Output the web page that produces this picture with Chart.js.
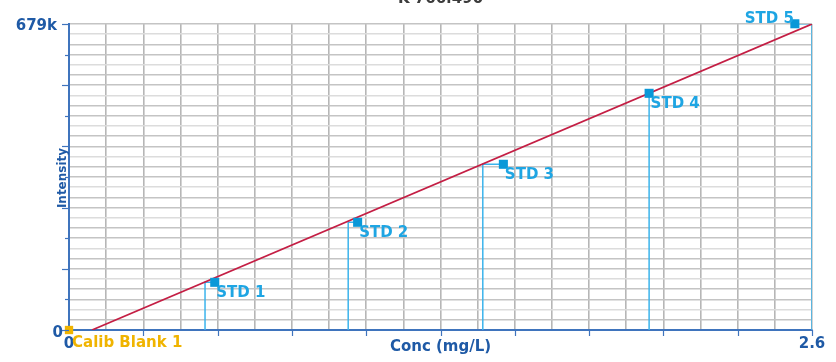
<!DOCTYPE html>
<html>
<head>
<meta charset="utf-8">
<script src="https://cdn.jsdelivr.net/npm/chart.js@4.4.0/dist/chart.umd.min.js"></script>
<style>
    html, body { margin: 0; padding: 0; background: #fff; }
</style>
</head>
<body>
<canvas id="calChart" width="836" height="362"></canvas>
<script>
// Chart data
const chartTitle = 'K 766.490';
const xAxisTitle = 'Conc (mg/L)';
const yAxisTitle = 'Intensity';
const xMax = 2.6;
const yMax = 679000;
const xTickValues = [0, 2.6];
const xTickLabels = ['0', '2.6'];
const yTickValues = [0, 679000];
const yTickLabels = ['0', '679k'];

const stdNames = ['STD 1', 'STD 2', 'STD 3', 'STD 4', 'STD 5'];
const stdConc = [0.51, 1.01, 1.52, 2.03, 2.54];
const stdIntensity = [105800, 239000, 367700, 525200, 679500];
const stdCalcConc = [0.476, 0.977, 1.448, 2.03, 2.6];

const blankName = 'Calib Blank 1';
const blankConc = [0];
const blankIntensity = [0];

const fitConc = [0.0805, 2.6];
const fitIntensity = [0, 679000];

// Colors
const axisBlue = '#3f74bd';
const labelBlue = '#1f5aa6';
const stdBlue = '#0a98d8';
const stdText = '#1ea5e3';
const dropBlue = '#3cb4ec';
const blankYellow = '#f0b400';
const fitRed = '#c41e44';

const X_DIV = 20;
const Y_DIV = 30;

// drop lines: calculated conc up to the fit, then across to the standard
const dropData = [];
stdConc.forEach((c, i) => {
    dropData.push({ x: stdCalcConc[i], y: 0 });
    dropData.push({ x: stdCalcConc[i], y: stdIntensity[i] });
    dropData.push({ x: c, y: stdIntensity[i] });
    dropData.push({ x: c, y: null });
});

const labelsPlugin = {
    id: 'calLabels',
    afterDraw(chart) {
        const c = chart.ctx;
        const xs = chart.scales.x;
        const ys = chart.scales.y;
        const area = chart.chartArea;
        c.save();

        // axis tick marks
        c.strokeStyle = axisBlue;
        c.lineWidth = 1.2;
        for (let i = 0; i <= Y_DIV; i += 3) {
            const py = Math.round(ys.getPixelForValue(i * yMax / Y_DIV)) + 0.5;
            const len = i % 6 === 0 ? 7 : 4;
            c.beginPath();
            c.moveTo(area.left - len, py);
            c.lineTo(area.left, py);
            c.stroke();
        }
        for (let i = 2; i <= X_DIV; i += 2) {
            const px = Math.round(xs.getPixelForValue(i * xMax / X_DIV)) + 0.5;
            c.beginPath();
            c.moveTo(px, area.bottom);
            c.lineTo(px, area.bottom + 6);
            c.stroke();
        }

        // title (mostly off the top)
        c.fillStyle = '#3c3c3c';
        c.font = 'bold 15px "DejaVu Sans"';
        c.textAlign = 'center';
        c.textBaseline = 'alphabetic';
        c.fillText(chartTitle, (area.left + area.right) / 2, 3);

        // tick labels
        c.fillStyle = labelBlue;
        c.font = 'bold 15px "DejaVu Sans"';
        c.textAlign = 'right';
        c.fillText(yTickLabels[1], area.left - 12, ys.getPixelForValue(yTickValues[1]) + 6);
        c.fillText(yTickLabels[0], area.left - 6, ys.getPixelForValue(yTickValues[0]) + 6.5);
        c.textAlign = 'center';
        xTickValues.forEach((v, i) => {
            c.fillText(xTickLabels[i], xs.getPixelForValue(v), area.bottom + 18.3);
        });

        // axis titles
        c.fillText(xAxisTitle, (area.left + area.right) / 2, area.bottom + 21);
        c.save();
        c.font = 'bold 12px "DejaVu Sans"';
        c.translate(area.left - 3, 178);
        c.rotate(-Math.PI / 2);
        c.fillText(yAxisTitle, 0, 0);
        c.restore();

        // point labels
        c.font = 'bold 15px "DejaVu Sans"';
        c.fillStyle = stdText;
        stdNames.forEach((name, i) => {
            const px = xs.getPixelForValue(stdConc[i]);
            const py = ys.getPixelForValue(stdIntensity[i]);
            if (i === stdNames.length - 1) {
                c.textAlign = 'right';
                c.fillText(name, px - 1, py - 1);
            } else {
                c.textAlign = 'left';
                c.fillText(name, px + 1.5, py + 15);
            }
        });
        c.fillStyle = blankYellow;
        c.textAlign = 'left';
        c.fillText(blankName, xs.getPixelForValue(blankConc[0]) + 3, ys.getPixelForValue(blankIntensity[0]) + 16.5);

        c.restore();
    }
};

const ctx = document.getElementById('calChart').getContext('2d');
new Chart(ctx, {
    type: 'line',
    data: {
        datasets: [
            {
                label: blankName,
                data: blankConc.map((c, i) => ({ x: c, y: blankIntensity[i] })),
                showLine: false,
                pointStyle: 'rect',
                pointRadius: 5.9,
                pointBackgroundColor: blankYellow,
                pointBorderWidth: 0,
                clip: false
            },
            {
                label: 'Standards',
                data: stdConc.map((c, i) => ({ x: c, y: stdIntensity[i] })),
                showLine: false,
                pointStyle: 'rect',
                pointRadius: 6.4,
                pointBackgroundColor: stdBlue,
                pointBorderWidth: 0,
                clip: false
            },
            {
                label: 'Fit',
                data: fitConc.map((c, i) => ({ x: c, y: fitIntensity[i] })),
                borderColor: fitRed,
                borderWidth: 1.7,
                pointRadius: 0,
                fill: false
            },
            {
                label: 'Drop',
                data: dropData,
                borderColor: dropBlue,
                borderWidth: 1.5,
                pointRadius: 0,
                spanGaps: false,
                fill: false
            }
        ]
    },
    options: {
        responsive: false,
        animation: false,
        devicePixelRatio: 1,
        layout: { padding: { top: 24, right: 24, left: 0, bottom: 0 } },
        plugins: {
            legend: { display: false },
            tooltip: { enabled: false }
        },
        scales: {
            x: {
                type: 'linear',
                min: 0,
                max: xMax,
                afterBuildTicks: (scale) => {
                    scale.ticks = Array.from({ length: X_DIV + 1 }, (_, i) => ({ value: i * xMax / X_DIV }));
                },
                afterFit: (scale) => { scale.height = 32; },
                ticks: { display: false },
                grid: {
                    color: '#b6b6b6',
                    lineWidth: 1.6,
                    drawTicks: false
                },
                border: { display: true, color: axisBlue, width: 2 }
            },
            y: {
                type: 'linear',
                min: 0,
                max: yMax,
                afterBuildTicks: (scale) => {
                    scale.ticks = Array.from({ length: Y_DIV + 1 }, (_, i) => ({ value: i * yMax / Y_DIV }));
                },
                afterFit: (scale) => { scale.width = 69; },
                ticks: { display: false },
                grid: {
                    color: (c) => (c.index % 3 === 2 ? '#dcdcdc' : '#c4c4c4'),
                    lineWidth: 1.5,
                    drawTicks: false
                },
                border: { display: true, color: axisBlue, width: 2 }
            }
        }
    },
    plugins: [labelsPlugin]
});
</script>
</body>
</html>
